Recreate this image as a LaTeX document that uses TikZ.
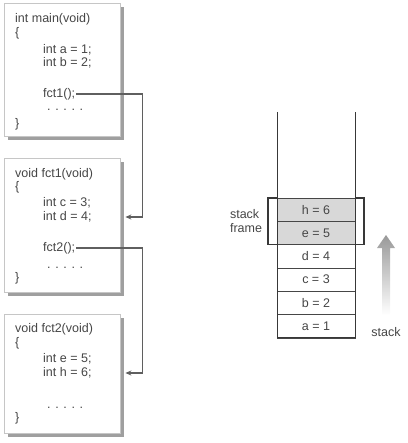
\documentclass[tikz,border=0pt]{standalone}
\usepackage{fontspec}
\setmainfont{Liberation Sans}
\usetikzlibrary{arrows.meta,positioning,calc,shadows}
\definecolor{inkgray}{RGB}{70,70,70}
\definecolor{linegray}{RGB}{95,95,95}
\definecolor{cellgray}{RGB}{216,216,216}
\begin{document}
\begin{tikzpicture}[x=1pt,y=1pt,
  every node/.style={font=\fontsize{12.5}{14}\selectfont,text=inkgray},
  codebox/.style={draw=gray!45,fill=white,minimum width=116pt,anchor=north west,inner sep=0pt,
    drop shadow={shadow xshift=4pt,shadow yshift=-4pt,fill=gray!75,opacity=1}},
  code/.style={anchor=west,inner sep=1pt},
  dotline/.style={code,text height=2pt,text depth=0pt},
  call/.style={linegray,line width=1.6pt,-{Stealth[length=6pt,width=5pt]}},
  stackcell/.style={draw=inkgray,line width=0.7pt,minimum width=78pt,minimum height=23.33pt,inner sep=0pt,outer sep=0pt},
  framecell/.style={stackcell,fill=cellgray},
  wall/.style={inkgray!80!black,line width=1pt},
  bracket/.style={inkgray!80!black,line width=1.1pt}]
  \useasboundingbox (0,0) rectangle (407,-443);
  % code boxes
  \node[codebox,minimum height=133pt] (mainbox) at (4,-3) {};
  \node[codebox,minimum height=134pt] (fct1box) at (4,-158) {};
  \node[codebox,minimum height=119pt] (fct2box) at (4,-314) {};
  % main
  \node[code] (m1) at (14,-19) {int main(void)};
  \node[code] (m2) at (14,-33) {\{};
  \node[code] (m3) at (42,-50) {int a = 1;};
  \node[code] (m4) at (42,-63) {int b = 2;};
  \node[code] (callfct1) at (42,-94) {fct1();};
  \node[dotline] (m5) at (46,-110) {. . . . .};
  \node[code] (m6) at (14,-124) {\}};
  % fct1
  \node[code] (f1) at (14,-174) {void fct1(void)};
  \node[code] (f2) at (14,-187) {\{};
  \node[code] (f3) at (42,-203) {int c = 3;};
  \node[code] (intd) at (42,-217) {int d = 4;};
  \node[code] (callfct2) at (42,-248) {fct2();};
  \node[dotline] (f4) at (46,-267) {. . . . .};
  \node[code] (f5) at (14,-278) {\}};
  % fct2
  \node[code] (g1) at (14,-329) {void fct2(void)};
  \node[code] (g2) at (14,-343) {\{};
  \node[code] (g3) at (42,-359) {int e = 5;};
  \node[code] (inth) at (42,-373) {int h = 6;};
  \node[dotline] (g4) at (46,-407) {. . . . .};
  \node[code] (g5) at (14,-418) {\}};
  % calls
  \draw[call] (callfct1.east) -- ++(66,0) |- ([xshift=5pt]fct1box.east |- intd.center);
  \draw[call] (callfct2.east) -- ++(66,0) |- ([xshift=5pt]fct2box.east |- inth.center);
  % stack
  \node[stackcell] (cella) at (316,-326.3) {a = 1};
  \node[stackcell,above=0pt of cella] (cellb) {b = 2};
  \node[stackcell,above=0pt of cellb] (cellc) {c = 3};
  \node[stackcell,above=0pt of cellc] (celld) {d = 4};
  \node[framecell,above=0pt of celld] (celle) {e = 5};
  \node[framecell,above=0pt of celle] (cellh) {h = 6};
  \coordinate (walltop) at (0,-112);
  \draw[wall] (walltop -| cella.west) -- (cella.south west) -- (cella.south east) -- (walltop -| cella.east);
  \draw[bracket] (cellh.north west) -- ++(-9,0) |- (celle.south west);
  \draw[bracket] (cellh.north east) -- ++(9,0) |- (celle.south east);
  \node[align=left] (framelbl) at (246,-221) {stack\\frame};
  % growth arrow
  \shade[top color=gray!80,bottom color=white]
    (382,-315) -- (382,-248) -- (377,-248) -- (386,-235) -- (395,-248) -- (390,-248) -- (390,-315) -- cycle;
  \node (stacklbl) at (386,-332) {stack};
\end{tikzpicture}
\end{document}
